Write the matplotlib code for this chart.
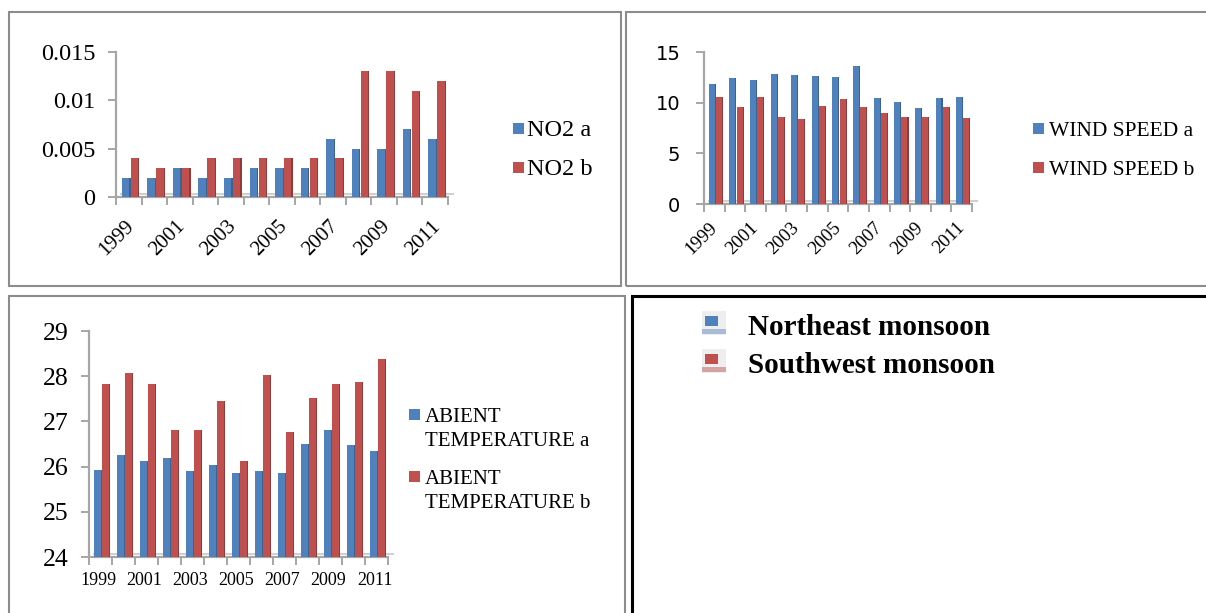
import matplotlib
matplotlib.use("Agg")
import matplotlib.pyplot as plt
from matplotlib.patches import Rectangle
from matplotlib.transforms import offset_copy
import numpy as np

# ---- data -------------------------------------------------------------
years = list(range(1999, 2012))
year_labels = [str(y) if (y - 1999) % 2 == 0 else "" for y in years]

no2_a = [0.002, 0.002, 0.003, 0.002, 0.002, 0.003, 0.003, 0.003, 0.006, 0.005, 0.005, 0.007, 0.006]
no2_b = [0.004, 0.003, 0.003, 0.004, 0.004, 0.004, 0.004, 0.004, 0.004, 0.013, 0.013, 0.011, 0.012]

wind_a = [11.8, 12.4, 12.2, 12.8, 12.7, 12.6, 12.5, 13.6, 10.5, 10.1, 9.5, 10.5, 10.6]
wind_b = [10.6, 9.6, 10.6, 8.6, 8.4, 9.7, 10.4, 9.6, 9.0, 8.6, 8.6, 9.6, 8.5]

temp_a = [25.92, 26.25, 26.12, 26.18, 25.90, 26.04, 25.86, 25.90, 25.86, 26.49, 26.82, 26.48, 26.35]
temp_b = [27.82, 28.07, 27.83, 26.80, 26.80, 27.46, 26.13, 28.02, 26.77, 27.52, 27.83, 27.88, 28.37]

no2_ticks = [0, 0.005, 0.01, 0.015]
no2_ticklabels = ["0", "0.005", "0.01", "0.015"]
wind_ticks = [0, 5, 10, 15]
wind_ticklabels = ["0", "5", "10", "15"]
temp_ticks = [24, 25, 26, 27, 28, 29]
temp_ticklabels = ["24", "25", "26", "27", "28", "29"]

season_names = ["Northeast monsoon", "Southwest monsoon"]

# ---- styling -------------------------------------------------------------
BLUE, BLUE_SIDE, BLUE_PALE = "#4f81bd", "#3a6394", "#a9bbd6"
RED, RED_SIDE, RED_PALE = "#c0504d", "#8f3b39", "#d4a3a2"
AXIS_GREY = "#a6a6a6"
SERIF = "Liberation Serif"

W, H = 1206, 613
fig = plt.figure(figsize=(W / 100, H / 100), dpi=100)
fig.patch.set_facecolor("white")


def px_axes(x0, y0, x1, y1):
    return fig.add_axes([x0 / W, 1 - y1 / H, (x1 - x0) / W, (y1 - y0) / H])


def px_rect(x0, y0, x1, y1, **kw):
    r = Rectangle((x0 / W, 1 - y1 / H), (x1 - x0) / W, (y1 - y0) / H,
                  transform=fig.transFigure, **kw)
    fig.add_artist(r)
    return r


def px_text(x, y, s, **kw):
    return fig.text(x / W, 1 - y / H, s, **kw)


def draw_bars(ax, a, b):
    x = np.arange(len(a))
    fw, sw = 0.29, 0.05
    for vals, off, face, side in ((a, -0.27, BLUE, BLUE_SIDE), (b, 0.08, RED, RED_SIDE)):
        ax.bar(x + off, vals, width=fw, align="edge", color=face, linewidth=0, zorder=3)
        ax.bar(x + off + fw, vals, width=sw, align="edge", color=side, linewidth=0, zorder=3)


def style_axis(ax, ylim, ticks, ticklabels, yfont, ysize, ypad,
               xrot, xsize, xdx, xdy):
    ax.set_xlim(-0.5, 12.5)
    ax.set_ylim(*ylim)
    ax.patch.set_alpha(0)
    for s in ("top", "right"):
        ax.spines[s].set_visible(False)
    for s in ("left", "bottom"):
        ax.spines[s].set_color(AXIS_GREY)
        ax.spines[s].set_linewidth(1.6)
        ax.spines[s].set_zorder(2)
    ax.set_yticks(ticks)
    ax.set_yticklabels(ticklabels, fontsize=ysize, family=yfont)
    ax.tick_params(axis="y", length=6, width=1.4, color=AXIS_GREY, pad=ypad)
    # category boundaries carry the tick marks
    ax.set_xticks(np.arange(-0.5, 13, 1))
    ax.set_xticklabels([])
    ax.tick_params(axis="x", which="major", length=6, width=1.4, color=AXIS_GREY)
    # year labels under the category centres
    tr = offset_copy(ax.get_xaxis_transform(), fig=fig, x=xdx, y=-xdy, units="dots")
    for i, lab in enumerate(year_labels):
        if not lab:
            continue
        if xrot:
            ax.text(i, 0, lab, transform=tr, fontsize=xsize, family=SERIF,
                    rotation=45, rotation_mode="anchor", ha="right", va="top")
        else:
            ax.text(i, 0, lab, transform=tr, fontsize=xsize, family=SERIF,
                    ha="center", va="top")
    # back edge of the chart floor
    fl = offset_copy(ax.transAxes, fig=fig, x=5, y=3, units="dots")
    ax.plot([0, 1], [0, 0], transform=fl, color="#cfcfcf", lw=1.4, clip_on=False, zorder=1)


def legend_pair(x_marker, x_text, entries, size):
    for color, lines in entries:
        for i, (txt, base) in enumerate(lines):
            if i == 0:
                px_rect(x_marker, base - 13, x_marker + 11, base - 2, color=color, lw=0)
            px_text(x_text, base, txt, fontsize=size, family=SERIF, va="baseline", ha="left")


# ---- panel frames -------------------------------------------------------
px_rect(9, 12, 621, 286, fill=False, ec="#8c8c8c", lw=1.5)
px_rect(626, 12, 1212, 286, fill=False, ec="#8c8c8c", lw=1.5)
px_rect(9, 296, 625, 620, fill=False, ec="#8c8c8c", lw=1.5)
px_rect(632, 296, 1212, 620, fill=False, ec="black", lw=2.2)

# ---- NO2 -------------------------------------------------------------
ax1 = px_axes(116, 52, 448, 197)
draw_bars(ax1, no2_a, no2_b)
style_axis(ax1, (0, 0.015), no2_ticks, no2_ticklabels, SERIF, 17.5, 9, True, 15, -4, 20)
legend_pair(513, 527, [(BLUE, [("NO2 a", 136)]), (RED, [("NO2 b", 175)])], 17.5)

# ---- wind speed -----------------------------------------------------------
ax2 = px_axes(704, 52, 972, 204)
draw_bars(ax2, wind_a, wind_b)
style_axis(ax2, (0, 15), wind_ticks, wind_ticklabels, "DejaVu Sans", 14, 11, True, 13.5, -6, 15)
legend_pair(1033, 1049, [(BLUE, [("WIND SPEED a", 136)]), (RED, [("WIND SPEED b", 175)])], 15.5)

# ---- ambient temperature --------------------------------------------------
ax3 = px_axes(89, 331, 388, 557)
draw_bars(ax3, temp_a, temp_b)
style_axis(ax3, (24, 29), temp_ticks, temp_ticklabels, SERIF, 18.5, 9, False, 13, -2, 15)
legend_pair(409, 425,
            [(BLUE, [("ABIENT", 421.5), ("TEMPERATURE a", 445.5)]),
             (RED, [("ABIENT", 484), ("TEMPERATURE b", 508)])], 15)

# ---- season key ------------------------------------------------------------
for (color, pale), name, base in zip(((BLUE, BLUE_PALE), (RED, RED_PALE)),
                                     season_names, (335, 373)):
    top = base - 24
    px_rect(702, top, 726, top + 24, color="#eeeeee", lw=0)
    px_rect(702, top + 18, 726, top + 23, color=pale, lw=0)
    px_rect(705, top + 5, 718, top + 15, color=color, lw=0)
    px_text(748, base, name, fontsize=21, family=SERIF, weight="bold",
            va="baseline", ha="left")

fig.savefig("out.png", dpi=100, facecolor="white")
